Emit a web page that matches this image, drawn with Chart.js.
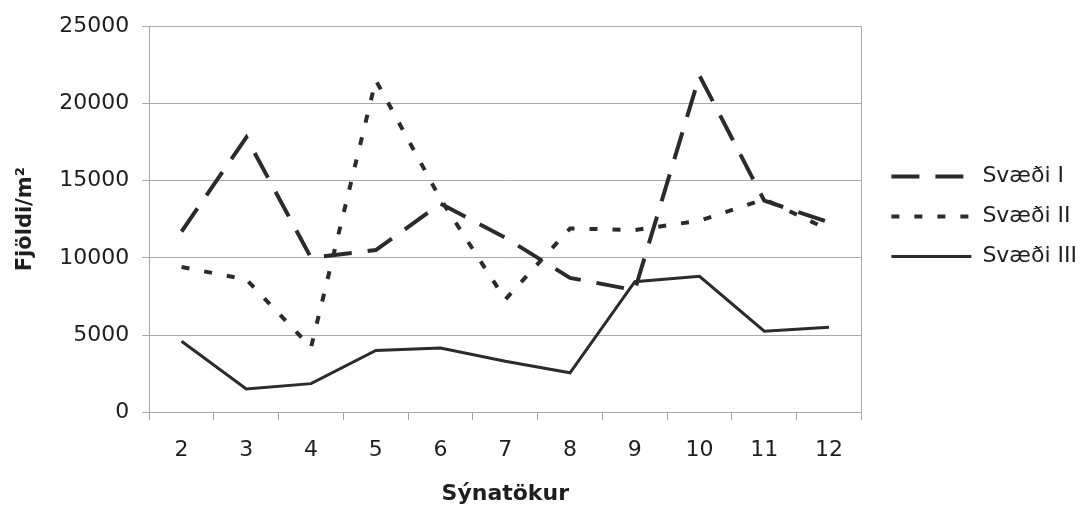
<!DOCTYPE html>
<html>
<head>
<meta charset="utf-8">
<script src="https://cdn.jsdelivr.net/npm/chart.js@4/dist/chart.umd.min.js"></script>
<style>
  html, body { margin: 0; padding: 0; background: #ffffff; }
  #wrap { width: 1087px; height: 510px; position: relative; }
</style>
</head>
<body>
<div id="wrap"><canvas id="chart"></canvas></div>
<script>
// Sampling rounds (Sýnatökur)
const categories = ['2', '3', '4', '5', '6', '7', '8', '9', '10', '11', '12'];

// Counts per square metre for each area
const svaedi1 = [11700, 17800, 10000, 10500, 13500, 11300, 8700, 7900, 21800, 13700, 12300];
const svaedi2 = [9400, 8600, 4200, 21500, 13800, 7300, 11900, 11800, 12400, 13800, 11800];
const svaedi3 = [4600, 1500, 1850, 4000, 4150, 3300, 2550, 8450, 8800, 5250, 5500];

const yTicks = [0, 5000, 10000, 15000, 20000, 25000];

const ink = '#2b2b2b';
const gridGray = '#a8a8a8';
const textColor = '#1e1e1e';

Chart.defaults.font.family = '"DejaVu Sans", sans-serif';
Chart.defaults.color = textColor;

function series(label, data, width, dash) {
  return {
    label: label,
    data: data,
    borderColor: ink,
    backgroundColor: ink,
    borderWidth: width,
    borderDash: dash,
    pointRadius: 0,
    tension: 0
  };
}

new Chart(document.getElementById('chart'), {
  type: 'line',
  data: {
    labels: categories,
    datasets: [
      series('Svæði I', svaedi1, 4, [28, 16]),
      series('Svæði II', svaedi2, 4, [8, 15]),
      series('Svæði III', svaedi3, 3, [])
    ]
  },
  options: {
    responsive: true,
    maintainAspectRatio: false,
    animation: false,
    layout: { padding: { top: 26, right: 0, bottom: 3, left: 13 } },
    plugins: {
      tooltip: { enabled: false },
      legend: {
        position: 'right',
        fullSize: false,
        align: 'start',
        // empty title only reserves space above the entries
        title: { display: true, text: '', font: { size: 22 }, padding: { top: 83, bottom: 0 } },
        labels: {
          usePointStyle: true,
          pointStyleWidth: 80,
          padding: 30,
          color: textColor,
          font: { size: 22, lineHeight: '10px' },
          // legend swatches repeat each line's own width and dash pattern
          generateLabels: chart => chart.data.datasets.map((ds, i) => ({
            text: [ds.label],
            datasetIndex: i,
            fillStyle: ds.borderColor,
            strokeStyle: ds.borderColor,
            fontColor: textColor,
            lineWidth: ds.borderWidth,
            lineDash: ds.borderDash,
            lineCap: 'butt',
            pointStyle: 'line',
            hidden: false
          }))
        }
      }
    },
    scales: {
      x: {
        offset: true,
        border: { display: true, color: gridGray, width: 1 },
        grid: {
          offset: true,
          drawOnChartArea: true,
          // only the closing line at the right edge shows inside the plot
          color: c => (c.type === 'scale' ? gridGray : 'rgba(0,0,0,0)'),
          tickColor: gridGray,
          tickLength: 8
        },
        ticks: { padding: 17, color: textColor, font: { size: 22 } },
        title: {
          display: true,
          text: 'Sýnatökur',
          color: textColor,
          font: { size: 22, weight: 'bold' },
          padding: { top: 0, bottom: 0 }
        }
      },
      y: {
        min: 0,
        max: 25000,
        afterBuildTicks: axis => { axis.ticks = yTicks.map(v => ({ value: v })); },
        border: { display: true, color: gridGray, width: 1 },
        grid: { color: gridGray, tickColor: gridGray, tickLength: 7 },
        ticks: {
          padding: 13,
          color: textColor,
          font: { size: 22 },
          callback: v => String(v)
        },
        title: {
          display: true,
          text: 'Fjöldi/m²',
          color: textColor,
          font: { size: 21, weight: 'bold' },
          padding: { top: 0, bottom: 8 }
        }
      }
    }
  }
});
</script>
</body>
</html>
